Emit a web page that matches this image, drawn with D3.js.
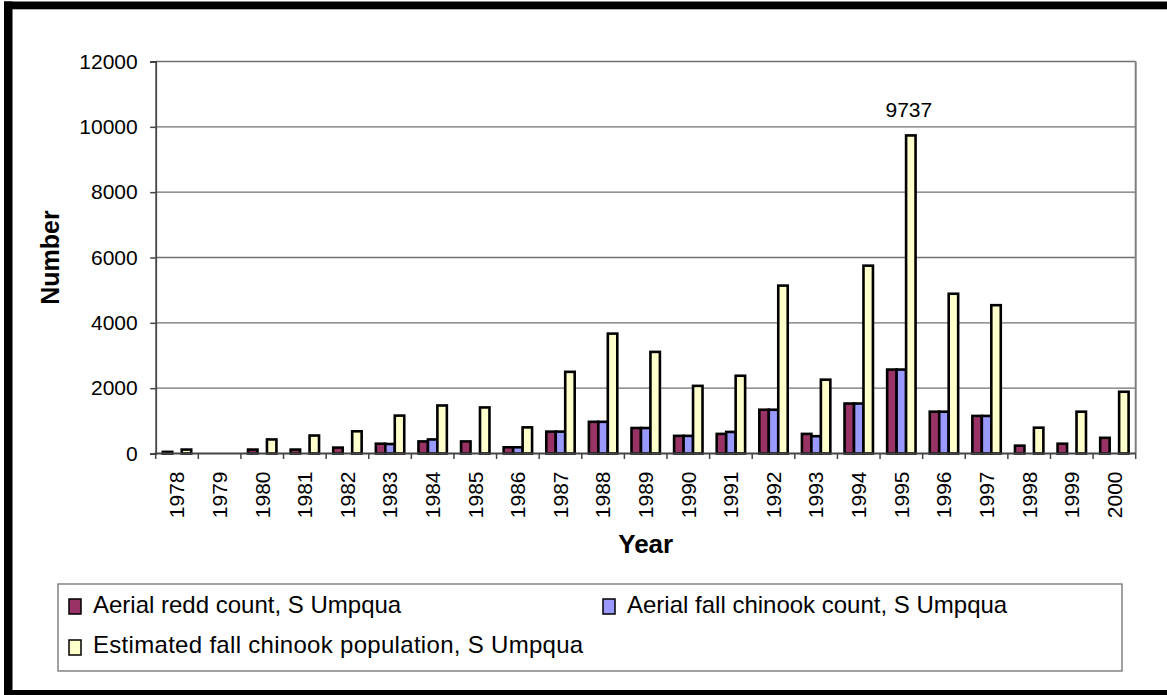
<!DOCTYPE html>
<html>
<head>
<meta charset="utf-8">
<script src="https://cdn.jsdelivr.net/npm/d3@7"></script>
<style>
  html, body { margin: 0; padding: 0; background: #fff; }
  svg { display: block; }
  text { font-family: "Liberation Sans", Arial, sans-serif; fill: #000; }
</style>
</head>
<body>
<svg id="chart" width="1167" height="695"></svg>
<script>
// ---- data ----
const years = ["1978","1979","1980","1981","1982","1983","1984","1985","1986","1987","1988","1989",
               "1990","1991","1992","1993","1994","1995","1996","1997","1998","1999","2000"];
const reddCount = [50, null, 120, 120, 180, 300, 370, 370, 190, 670, 970, 780,
                   540, 600, 1340, 600, 1530, 2570, 1280, 1150, 240, 300, 480];
const fishCount = [null, null, null, null, null, 290, 430, null, 190, 670, 970, 780,
                   540, 660, 1340, 530, 1530, 2570, 1280, 1150, null, null, null];
const popEstimate = [120, null, 430, 550, 680, 1160, 1470, 1410, 800, 2500, 3670, 3110,
                     2070, 2380, 5140, 2260, 5750, 9737, 4890, 4540, 790, 1280, 1890];
const seriesNames = ["Aerial redd count, S Umpqua", "Aerial fall chinook count, S Umpqua",
                     "Estimated fall chinook population, S Umpqua"];
const seriesColors = ["#993366", "#9999FF", "#FFFFCC"];
const yTicks = [0, 2000, 4000, 6000, 8000, 10000, 12000];
const labelledValue = 9737;

const series = [reddCount, fishCount, popEstimate];

const svg = d3.select("#chart");

// frame
svg.append("rect").attr("x", 4).attr("y", 1.5).attr("width", 1163).attr("height", 7.8).attr("fill", "#000");
svg.append("rect").attr("x", 4).attr("y", 1.5).attr("width", 8.5).attr("height", 693.5).attr("fill", "#000");
svg.append("rect").attr("x", 4).attr("y", 690).attr("width", 1163).attr("height", 5).attr("fill", "#000");

const L = 155.7, R = 1135.7, T = 61.5, B = 453.5;

const x = d3.scaleBand().domain(years).range([L, R]).paddingInner(0).paddingOuter(0);
const y = d3.scaleLinear().domain([0, 12000]).range([B, T]);
const bw = x.bandwidth() / 4.5;

// gridlines
svg.append("g").selectAll("line").data(yTicks.filter(d => d > 0)).join("line")
  .attr("x1", L).attr("x2", R)
  .attr("y1", d => y(d)).attr("y2", d => y(d))
  .attr("stroke", "#707070").attr("stroke-width", 1.3);

// right border of plot
svg.append("line").attr("x1", R).attr("x2", R).attr("y1", T).attr("y2", B)
  .attr("stroke", "#808080").attr("stroke-width", 2);

// bars
series.forEach((vals, si) => {
  svg.append("g").selectAll("rect")
    .data(years.map((yr, i) => ({ yr, v: vals[i] })).filter(d => d.v != null))
    .join("rect")
    .attr("x", d => x(d.yr) + 0.75 * bw + si * bw)
    .attr("y", d => y(d.v))
    .attr("width", bw)
    .attr("height", d => B - y(d.v))
    .attr("fill", seriesColors[si])
    .attr("stroke", "#000")
    .attr("stroke-width", 2.6);
});

// y axis
const yAxis = svg.append("g").attr("transform", `translate(${L},0)`)
  .call(d3.axisLeft(y).tickValues(yTicks).tickSize(5.5).tickPadding(12.5).tickFormat(d3.format("d")));
yAxis.select(".domain").attr("stroke", "#444").attr("stroke-width", 1.8);
yAxis.selectAll(".tick line").attr("stroke", "#444").attr("stroke-width", 1.5);
yAxis.selectAll("text").attr("font-size", 21).attr("font-family", "Liberation Sans, Arial, sans-serif").attr("fill", "#000");

// x axis
const xAxis = svg.append("g").attr("transform", `translate(0,${B})`)
  .call(d3.axisBottom(x).tickSize(0).tickPadding(0));
xAxis.select(".domain").remove();
xAxis.append("line").attr("x1", L - 1).attr("x2", R).attr("y1", 0).attr("y2", 0)
  .attr("stroke", "#444").attr("stroke-width", 1.8);
const boundaries = years.map(yr => x(yr)).concat([R]);
xAxis.selectAll(".bt").data(boundaries).join("line").attr("class", "bt")
  .attr("x1", d => d).attr("x2", d => d).attr("y1", 0).attr("y2", 5.5)
  .attr("stroke", "#444").attr("stroke-width", 1.5);
xAxis.selectAll(".tick text")
  .attr("font-size", 21).attr("font-family", "Liberation Sans, Arial, sans-serif").attr("fill", "#000")
  .attr("transform", "rotate(-90)")
  .attr("text-anchor", "end")
  .attr("x", -18).attr("y", 0).attr("dy", "0.35em");

// data label
const iMax = popEstimate.indexOf(labelledValue);
svg.append("text")
  .attr("x", x(years[iMax]) + 0.75 * bw + 2.5 * bw - 2)
  .attr("y", y(labelledValue) - 18.5)
  .attr("text-anchor", "middle").attr("font-size", 21)
  .text(labelledValue);

// axis titles
svg.append("text").attr("x", (L + R) / 2).attr("y", 553)
  .attr("text-anchor", "middle").attr("font-size", 26).attr("font-weight", "bold").text("Year");
svg.append("text").attr("transform", `translate(59,${(T + B) / 2}) rotate(-90)`)
  .attr("text-anchor", "middle").attr("font-size", 25).attr("font-weight", "bold").text("Number");

// legend
const lg = svg.append("g");
lg.append("rect").attr("x", 58).attr("y", 584).attr("width", 1064).attr("height", 87)
  .attr("fill", "#fff").attr("stroke", "#707070").attr("stroke-width", 1.3);
const legendPos = [
  { sx: 69, sy: 599, tx: 93, ty: 613 },
  { sx: 603, sy: 599, tx: 627, ty: 613 },
  { sx: 69, sy: 640, tx: 93, ty: 653 }
];
seriesNames.forEach((name, i) => {
  const p = legendPos[i];
  lg.append("rect").attr("x", p.sx).attr("y", p.sy).attr("width", 12).attr("height", 15)
    .attr("fill", seriesColors[i]).attr("stroke", "#000").attr("stroke-width", 1.5);
  lg.append("text").attr("x", p.tx).attr("y", p.ty).attr("font-size", 24)
    .attr("letter-spacing", i === 2 ? 0.3 : 0).text(name);
});
</script>
</body>
</html>
